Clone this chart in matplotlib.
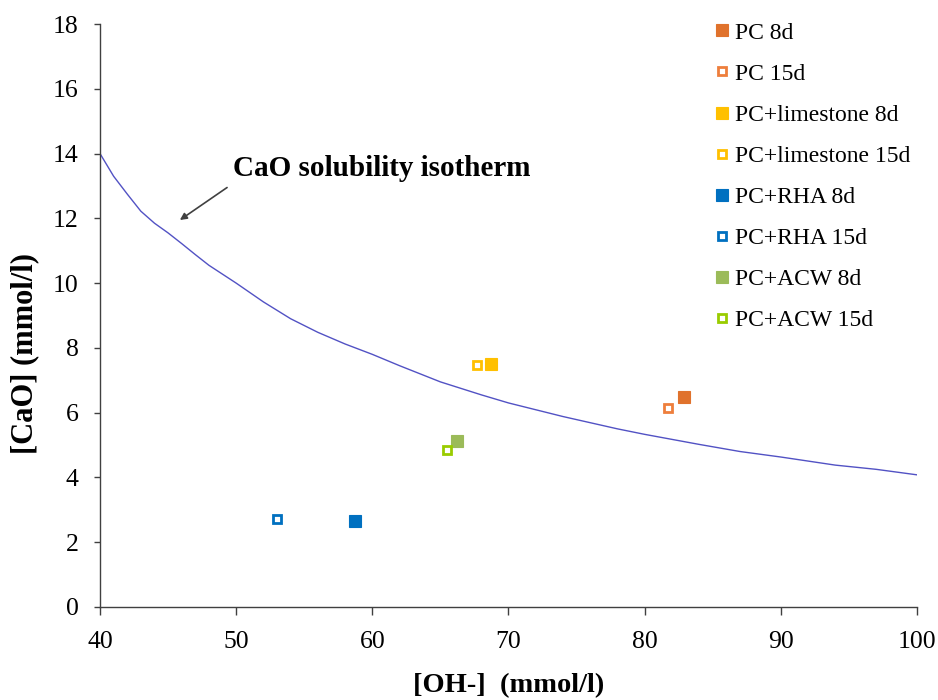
import matplotlib
matplotlib.use("Agg")
import matplotlib.pyplot as plt

plt.rcParams['font.family'] = ['Liberation Serif', 'DejaVu Serif']

# Solubility isotherm
iso_oh = [40, 41, 42, 43, 44, 45, 46, 47, 48, 50, 52, 54, 56, 58, 60, 62, 65, 68, 70, 74, 78, 80,
          84, 87, 90, 94, 97, 100]
iso_cao = [14.0, 13.3, 12.75, 12.22, 11.85, 11.55, 11.22, 10.88, 10.55, 10.0, 9.42, 8.9, 8.48, 8.12,
           7.8, 7.45, 6.95, 6.55, 6.3, 5.88, 5.5, 5.33, 5.02, 4.8, 4.63, 4.38, 4.25, 4.08]

labels = ["PC 8d", "PC 15d", "PC+limestone 8d", "PC+limestone 15d",
          "PC+RHA 8d", "PC+RHA 15d", "PC+ACW 8d", "PC+ACW 15d"]
oh_vals = [82.9, 81.7, 68.7, 67.7, 58.7, 53.0, 66.2, 65.5]
cao_vals = [6.48, 6.15, 7.51, 7.47, 2.66, 2.71, 5.11, 4.86]
colors = ["#E0722C", "#EE7E3C", "#FFC000", "#FFC000", "#0070C0", "#0070C0", "#9BBB59", "#99CC00"]
hollow = [False, True, False, True, False, True, False, True]

x_ticks = [40, 50, 60, 70, 80, 90, 100]
y_ticks = [0, 2, 4, 6, 8, 10, 12, 14, 16, 18]

fig = plt.figure(figsize=(9.38, 7.0), dpi=100)
ax = fig.add_axes([0.1066, 0.1329, 0.8710, 0.8328])

ax.plot(iso_oh, iso_cao, color="#5252C4", lw=1.0, zorder=2)

handles = []
for x, y, c, h, lab in zip(oh_vals, cao_vals, colors, hollow, labels):
    if h:
        p, = ax.plot([x], [y], linestyle='none', marker='s', markersize=6.2,
                     markerfacecolor='white', markeredgecolor=c, markeredgewidth=2.0,
                     label=lab, zorder=3)
    else:
        p, = ax.plot([x], [y], linestyle='none', marker='s', markersize=8.0,
                     markerfacecolor=c, markeredgecolor=c, markeredgewidth=0.8,
                     label=lab, zorder=3)
    handles.append(p)

ax.set_xlim(40, 100)
ax.set_ylim(0, 18)
ax.set_xticks(x_ticks)
ax.set_yticks(y_ticks)
for s in ['top', 'right']:
    ax.spines[s].set_visible(False)
for s in ['left', 'bottom']:
    ax.spines[s].set_color('#404040')
    ax.spines[s].set_linewidth(1.0)
ax.tick_params(axis='y', direction='out', length=4.5, width=1.0, color='#404040',
               labelsize=18.5, pad=11)
ax.tick_params(axis='x', direction='out', length=6, width=1.0, color='#404040',
               labelsize=18.5, pad=11)

ax.set_xlabel("[OH-]  (mmol/l)", fontsize=20.5, fontweight='bold')
ax.xaxis.set_label_coords(0.5, -0.135)
ax.xaxis.label.set_va('center')
ax.set_ylabel("[CaO] (mmol/l)", fontsize=22, fontweight='bold')
ax.yaxis.set_label_coords(-0.092, 0.435)
ax.yaxis.label.set_va('center')

ax.annotate("", xy=(45.7, 11.9), xytext=(49.5, 13.0),
            arrowprops=dict(arrowstyle='-|>', color='#404040', lw=1.2,
                            mutation_scale=10))
ax.text(49.75, 13.55, "CaO solubility isotherm", fontsize=21, fontweight='bold',
        va='center', ha='left')

leg = fig.legend(handles=handles, loc='upper left', bbox_to_anchor=(0.752, 0.982),
                 frameon=False, fontsize=17, handlelength=0.6, handletextpad=0.25,
                 labelspacing=0.83, borderaxespad=0)

fig.savefig("out.png", dpi=100)
